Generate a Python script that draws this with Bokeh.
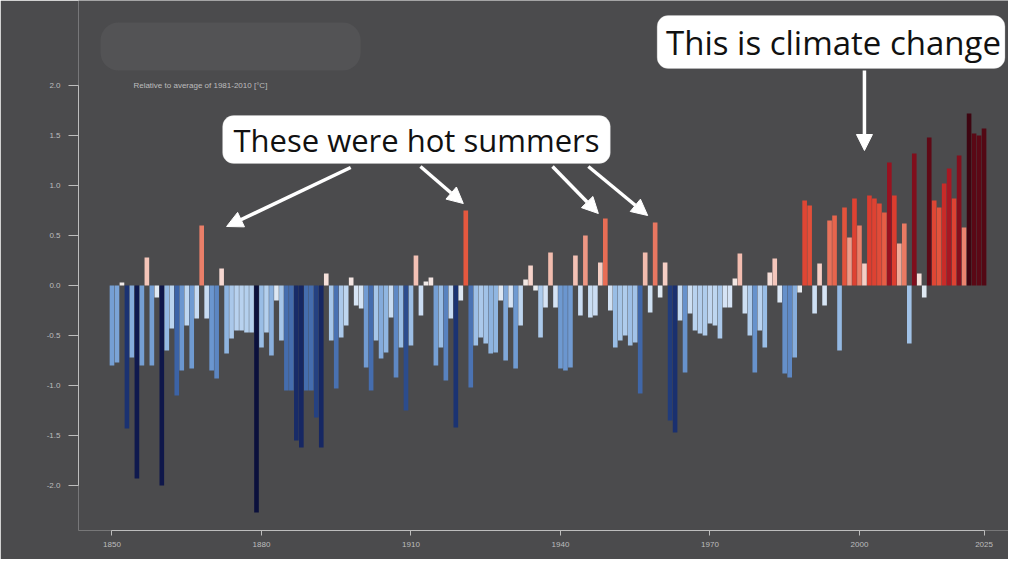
import numpy as np
from bokeh.plotting import figure
from bokeh.models import (ColumnDataSource, Range1d, FixedTicker, NumeralTickFormatter,
                          BoxAnnotation, Label, Arrow, NormalHead, LinearAxis)
from bokeh.embed import file_html
from bokeh.resources import INLINE

# ---------------- data ----------------
years = list(range(1850, 2026))
anomalies = [
    -0.80, -0.77, 0.03, -1.43, -0.72, -1.93, -0.80, 0.28, -0.80, -0.12,   # 1850s
    -2.00, -0.65, -0.43, -1.10, -0.85, -0.40, -0.83, -0.33, 0.60, -0.33,  # 1860s
    -0.85, -0.93, 0.17, -0.68, -0.53, -0.45, -0.45, -0.47, -0.47, -2.27,  # 1870s
    -0.62, -0.47, -0.70, -0.15, -0.55, -1.05, -1.05, -1.55, -1.62, -1.05, # 1880s
    -1.05, -1.32, -1.62, 0.12, -0.55, -1.03, -0.52, -0.40, 0.08, -0.20,   # 1890s
    -0.23, -0.82, -1.05, -0.55, -0.73, -0.67, -0.32, -0.92, -0.62, -1.25, # 1900s
    -0.60, 0.30, -0.30, 0.04, 0.08, -0.80, -0.62, -0.95, -0.33, -1.42,    # 1910s
    -0.15, 0.75, -1.02, -0.60, -0.52, -0.58, -0.68, -0.67, -0.15, -0.75,  # 1920s
    -0.22, -0.83, -0.40, 0.06, 0.20, -0.05, -0.52, -0.22, 0.33, -0.22,    # 1930s
    -0.83, -0.85, -0.82, 0.30, -0.30, 0.50, -0.32, -0.30, 0.23, 0.67,     # 1940s
    -0.25, -0.62, -0.55, -0.50, -0.60, -0.57, -1.08, 0.33, -0.27, 0.63,   # 1950s
    -0.12, 0.23, -1.35, -1.47, -0.35, -0.87, -0.28, -0.45, -0.48, -0.50,  # 1960s
    -0.38, -0.40, -0.53, -0.22, -0.22, 0.07, 0.32, -0.28, -0.50, -0.87,   # 1970s
    -0.45, -0.62, 0.13, 0.27, -0.17, -0.88, -0.92, -0.72, -0.07, 0.85,    # 1980s
    0.80, -0.28, 0.22, -0.20, 0.65, 0.70, -0.65, 0.78, 0.48, 0.87,        # 1990s
    0.60, 0.22, 0.90, 0.87, 0.82, 0.73, 1.23, 0.90, 0.42, 0.62,           # 2000s
    -0.58, 1.32, 0.12, -0.12, 1.48, 0.85, 0.78, 1.02, 1.17, 0.87,         # 2010s
    1.30, 0.58, 1.72, 1.52, 1.50, 1.57,                                   # 2020s
]
x_ticks = [1850, 1880, 1910, 1940, 1970, 2000, 2025]
y_ticks = [-2.0, -1.5, -1.0, -0.5, 0.0, 0.5, 1.0, 1.5, 2.0]
subtitle = "Relative to average of 1981-2010 [°C]"
callout_1 = "These were hot summers"
callout_2 = "This is climate change"

# ---------------- colour scale ----------------
stop_vals = [-2.3, -1.8, -1.4, -1.1, -0.85, -0.65, -0.45, -0.2, 0.0,
             0.15, 0.35, 0.55, 0.75, 0.95, 1.2, 1.4, 1.75]
stop_cols = ["#0b0f3a", "#111c55", "#1c3474", "#3c63a6", "#6b96cf", "#94b9e3",
             "#b8d2ef", "#d7e5f5", "#eeeeee", "#f7dcd5", "#f2b8aa", "#ec8c77",
             "#e5583f", "#d9342a", "#a01422", "#6a0a18", "#3a0510"]


def hex2rgb(h):
    return [int(h[i:i + 2], 16) for i in (1, 3, 5)]


rgb = np.array([hex2rgb(c) for c in stop_cols], dtype=float)
cols = []
for v in anomalies:
    r = np.interp(v, stop_vals, rgb[:, 0])
    g = np.interp(v, stop_vals, rgb[:, 1])
    b = np.interp(v, stop_vals, rgb[:, 2])
    cols.append("#%02x%02x%02x" % (int(round(r)), int(round(g)), int(round(b))))

source = ColumnDataSource(dict(year=years, value=anomalies, color=cols))

# ---------------- figure ----------------
BG = "#4b4b4d"
AX = "#bdbdbd"

p = figure(width=1008, height=559, output_backend="svg", toolbar_location=None,
           x_range=Range1d(1843.28, 2029.91), y_range=Range1d(-2.45, 2.85),
           min_border_left=78, min_border_right=0, min_border_top=0,
           min_border_bottom=29, x_axis_type=None, y_axis_type=None)
p.background_fill_color = BG
p.border_fill_color = BG
p.outline_line_color = None
p.grid.visible = False

xa = LinearAxis(ticker=FixedTicker(ticks=x_ticks), bounds=(1850, 2025))
xa.axis_line_color = AX
xa.major_tick_line_color = AX
xa.minor_tick_line_color = None
xa.major_tick_in = 0
xa.major_tick_out = 5
xa.major_label_text_color = AX
xa.major_label_text_font_size = "8px"
xa.major_label_standoff = 6
p.add_layout(xa, "below")

ya = LinearAxis(ticker=FixedTicker(ticks=y_ticks), bounds=(-2, 2),
                formatter=NumeralTickFormatter(format="0.0"))
ya.axis_line_color = AX
ya.major_tick_line_color = AX
ya.minor_tick_line_color = None
ya.major_tick_in = 0
ya.major_tick_out = 10
ya.major_label_text_color = AX
ya.major_label_text_font_size = "8px"
ya.major_label_standoff = 8
p.add_layout(ya, "left")

p.vbar(x="year", top="value", bottom=0, width=0.93, fill_color="color",
       line_color=None, source=source)

# blurred (redacted) title area
p.add_layout(BoxAnnotation(left=1847.7, right=1899.9, bottom=2.15, top=2.63,
                           fill_color="#535355", fill_alpha=1.0, line_color=None,
                           border_radius=18))

p.add_layout(Label(x=1854.3, y=2.0, text=subtitle, text_font_size="8px",
                   text_color=AX, text_baseline="middle", text_align="left",
                   text_font="Liberation Sans"))

# callout boxes
p.add_layout(BoxAnnotation(left=1872.2, right=1950.0, bottom=1.22, top=1.70,
                           fill_color="white", fill_alpha=1.0, line_color="#cfcfcf",
                           line_width=1, border_radius=11))
p.add_layout(Label(x=1911.1, y=1.46, text=callout_1, text_font_size="31px",
                   text_color="#111111", text_align="center", text_baseline="middle",
                   text_font="Open Sans"))

p.add_layout(BoxAnnotation(left=1959.4, right=2029.2, bottom=2.17, top=2.70,
                           fill_color="white", fill_alpha=1.0, line_color="#cfcfcf",
                           line_width=1, border_radius=11))
p.add_layout(Label(x=1994.8, y=2.435, text=callout_2, text_font_size="33px",
                   text_color="#111111", text_align="center", text_baseline="middle",
                   text_font="Open Sans"))

# arrows
arrows = [
    (1897.9, 1.18, 1873.0, 0.59),
    (1911.9, 1.19, 1920.5, 0.82),
    (1938.4, 1.19, 1947.6, 0.72),
    (1945.6, 1.19, 1957.5, 0.70),
    (2001.0, 2.15, 2001.0, 1.35),
]
for xs, ys, xe, ye in arrows:
    p.add_layout(Arrow(end=NormalHead(size=16, fill_color="white", line_color="white"),
                       x_start=xs, y_start=ys, x_end=xe, y_end=ye,
                       line_color="white", line_width=3.5))

open("out.html", "w").write(file_html(p, INLINE))
